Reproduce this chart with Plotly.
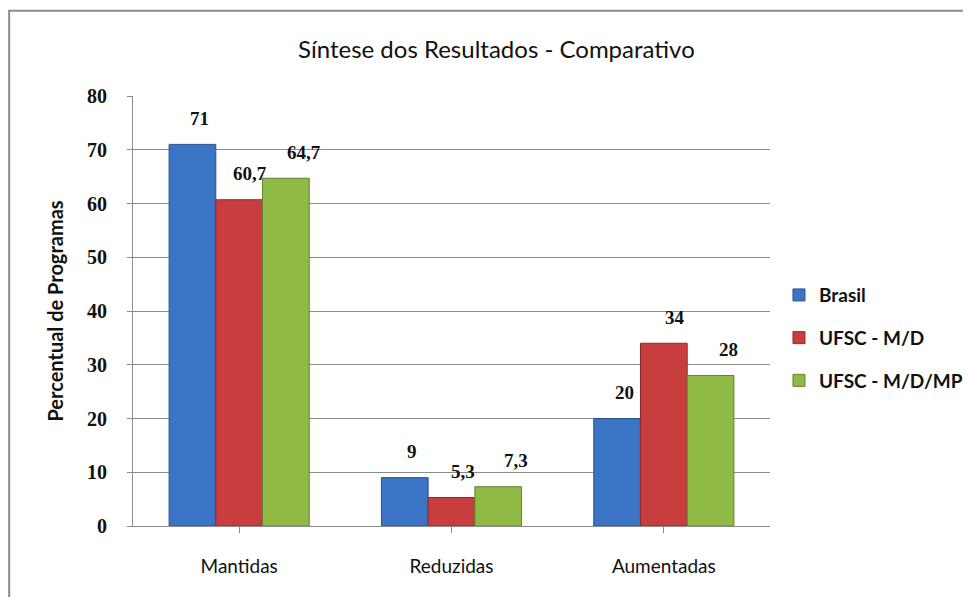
import plotly.graph_objects as go

categorias = ['Mantidas', 'Reduzidas', 'Aumentadas']
brasil = [71, 9, 20]
ufsc_md = [60.7, 5.3, 34]
ufsc_mdmp = [64.7, 7.3, 28]
y_ticks = [0, 10, 20, 30, 40, 50, 60, 70, 80]

SANS = 'Lato, Open Sans, Arial'
SERIF = 'Liberation Serif, DejaVu Serif, serif'
BARGAP = 0.34

series = [
    ('Brasil', brasil, '#3b74c4', '#2a528c', 7),
    ('UFSC - M/D', ufsc_md, '#c83d3e', '#8e2a2b', 11),
    ('UFSC - M/D/MP', ufsc_mdmp, '#90ba46', '#64822f', 18),
]

pos = list(range(len(categorias)))
largura = (1 - BARGAP) / len(series)

fig = go.Figure()
for k, (nome, valores, cor, borda, dx) in enumerate(series):
    fig.add_trace(go.Bar(x=pos, y=valores, name=nome, legendgroup=nome,
                         marker=dict(color=cor, line=dict(color=borda, width=1))))
    desloc = (k - (len(series) - 1) / 2) * largura
    for i, v in enumerate(valores):
        # rótulos no estilo do Excel: número com vírgula acima da barra
        fig.add_annotation(x=pos[i] + desloc, y=v, text=f'{v:g}'.replace('.', ','),
                           showarrow=False, xshift=dx, yshift=26, yanchor='middle',
                           font=dict(family=SERIF, size=19, color='#111', weight='bold'))

fig.update_layout(
    width=971, height=597,
    barmode='group', bargap=BARGAP, bargroupgap=0,
    plot_bgcolor='white', paper_bgcolor='white',
    margin=dict(l=125, r=208, t=88, b=79),
    font=dict(family=SANS, color='#111'),
    title=dict(text='Síntese dos Resultados - Comparativo', x=0.503, xref='container',
               y=0.931, yref='container', xanchor='center', yanchor='middle',
               font=dict(family=SANS, size=24, color='#111')),
    legend=dict(x=1.0125, xanchor='left', y=0.437, yanchor='middle',
                font=dict(family=SANS, size=19, color='#111', weight='bold'),
                tracegroupgap=15, itemwidth=30, traceorder='grouped'),
    showlegend=True,
)

fig.update_yaxes(range=[0, 80], tickvals=y_ticks, showgrid=True, gridcolor='#8c8c8c',
                 gridwidth=1, showline=True, linecolor='#8c8c8c', ticks='outside',
                 ticklen=5, tickcolor='#8c8c8c', ticklabelstandoff=16, zeroline=False,
                 tickfont=dict(family=SERIF, size=20, color='#111', weight='bold'),
                 title=dict(text='<b>Percentual de Programas</b>', standoff=18,
                            font=dict(family=SANS, size=20, color='#111')))
fig.update_xaxes(range=[-0.5, len(categorias) - 0.5], tickvals=pos, ticktext=categorias,
                 showline=True, linecolor='#8c8c8c', ticks='outside', ticklen=6,
                 tickcolor='#8c8c8c', tickson='boundaries', ticklabelstandoff=17,
                 showgrid=False, zeroline=False,
                 tickfont=dict(family=SANS, size=19, color='#111'))

# moldura do gráfico
fig.add_shape(type='rect', xref='paper', yref='paper', x0=-0.1944, x1=1.4, y0=-0.3, y1=1.198,
              line=dict(color='#8a8a8a', width=2), layer='below')

fig.write_html('out.html')
